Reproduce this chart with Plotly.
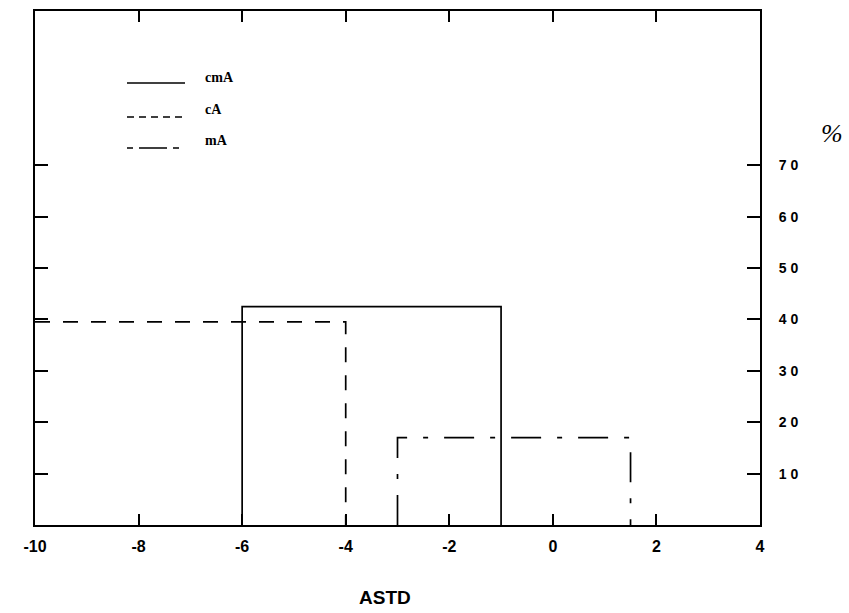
import plotly.graph_objects as go

# Data
series_names = ["cmA", "cA", "mA"]
bin_start = [-6.0, -10.0, -3.0]
bin_end = [-1.0, -4.0, 1.5]
pct = [42.5, 39.5, 17.0]
draw_left_edge = [True, False, True]

x_tick_vals = [-10, -8, -6, -4, -2, 0, 2, 4]
x_tick_text = ["-10", "-8", "-6", "-4", "-2", "0", "2", "4"]
y_tick_vals = [10, 20, 30, 40, 50, 60, 70]
y_tick_text = ["1 0", "2 0", "3 0", "4 0", "5 0", "6 0", "7 0"]

dashes = ["solid", "15px,13px", "30px,16px,5px,16px"]
legend_dashes = ["solid", "7px,5px", "6px,6px,28px,6px"]

fig = go.Figure()
for name, s, e, p, left, d in zip(series_names, bin_start, bin_end, pct, draw_left_edge, dashes):
    if left:
        xs = [s, s, e, e]
        ys = [0, p, p, 0]
    else:
        xs = [s, e, e]
        ys = [p, p, 0]
    fig.add_trace(go.Scatter(x=xs, y=ys, mode="lines", name=name,
                             line=dict(color="black", width=1.7, dash=d),
                             showlegend=False, hoverinfo="skip"))

# Plot-area geometry in page pixels
L, R, T, B = 35, 760, 11, 525
W, H = R - L, B - T
def px(x):
    return (x - L) / W
def py(y):
    return (B - y) / H

# Manual legend
leg_line_y = [83, 117, 148]
leg_text_y = [77, 109, 140]
for name, d, ly, ty in zip(series_names, legend_dashes, leg_line_y, leg_text_y):
    fig.add_shape(type="line", xref="paper", yref="paper",
                  x0=px(127), x1=px(185), y0=py(ly), y1=py(ly),
                  line=dict(color="black", width=1.4, dash=d))
    fig.add_annotation(xref="paper", yref="paper", x=px(203), y=py(ty),
                       text=name, showarrow=False, xanchor="left", yanchor="middle",
                       font=dict(family="Liberation Serif", size=14, color="black", weight="bold"))

fig.add_annotation(xref="paper", yref="paper", x=px(832), y=py(133), text="%",
                   showarrow=False, xanchor="center", yanchor="middle",
                   font=dict(family="Liberation Serif", size=26, color="black", style="italic"))
fig.add_annotation(xref="paper", yref="paper", x=px(385), y=py(597), text="ASTD",
                   showarrow=False, xanchor="center", yanchor="middle",
                   font=dict(family="Liberation Sans", size=19, color="black", weight="bold"))

fig.update_xaxes(range=[-10, 4], tickvals=x_tick_vals, ticktext=x_tick_text,
                 ticks="inside", ticklen=11, tickwidth=1.5, tickcolor="black",
                 showline=True, linecolor="black", linewidth=2, mirror="ticks",
                 showgrid=False, zeroline=False, ticklabelstandoff=6,
                 tickfont=dict(family="Liberation Sans", size=16, color="black", weight="bold"))
fig.update_yaxes(range=[0, 100], side="right", tickvals=y_tick_vals, ticktext=y_tick_text,
                 ticks="inside", ticklen=13, tickwidth=1.5, tickcolor="black",
                 showline=True, linecolor="black", linewidth=2, mirror="ticks",
                 showgrid=False, zeroline=False, ticklabelstandoff=14,
                 tickfont=dict(family="Liberation Sans", size=14, color="black", weight="bold"))

fig.update_layout(width=849, height=613, plot_bgcolor="white", paper_bgcolor="white",
                  margin=dict(l=L, r=849 - R, t=T, b=613 - B, autoexpand=False),
                  showlegend=False)

fig.write_html("out.html", config={"displayModeBar": False},
               post_script="document.body.style.margin='0px';document.body.style.overflow='hidden';")
